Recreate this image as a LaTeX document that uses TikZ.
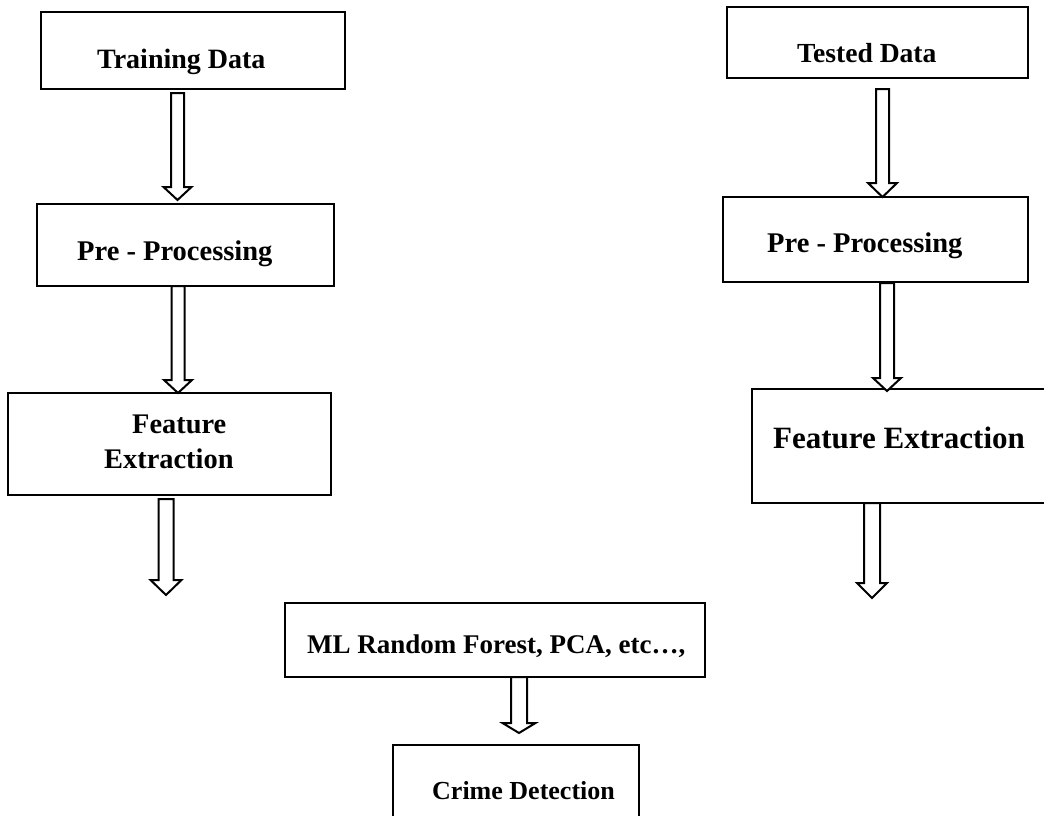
\documentclass[tikz,border=0pt]{standalone}
\usepackage{fontspec}
\setmainfont{Liberation Serif}
\begin{document}
\begin{tikzpicture}[x=1pt,y=-1pt,
  boxline/.style={draw=black,line width=2.6pt,fill=none},
  arrline/.style={draw=black,line width=2pt,fill=white,line join=miter},
  lbl/.style={anchor=base west,inner sep=0pt,font=\bfseries}]
\useasboundingbox (0,0) rectangle (1044,816);
\clip (0,0) rectangle (1044,816);
\newcommand{\hollowarr}[7]{% name, cx, top, bottom, halfshaft, halfhead, headlen
  \coordinate (#1-s) at (#2,#3);
  \coordinate (#1-e) at (#2,#4);
  \draw[arrline] (#2-#5,#3) -- (#2-#5,#4-#7) -- (#2-#6,#4-#7) -- (#1-e)
     -- (#2+#6,#4-#7) -- (#2+#5,#4-#7) -- (#2+#5,#3) -- cycle;}
% boxes
\draw[boxline] (41,12) rectangle (345,89) coordinate (trainbox);
\draw[boxline] (37,204) rectangle (334,286) coordinate (prelbox);
\draw[boxline] (8,393) rectangle (331,495) coordinate (featlbox);
\draw[boxline] (727,7) rectangle (1028,78) coordinate (testbox);
\draw[boxline] (723,197) rectangle (1028,282) coordinate (prerbox);
\draw[boxline] (752,389) rectangle (1060,503) coordinate (featrbox);
\draw[boxline] (285,603) rectangle (705,677) coordinate (mlbox);
\draw[boxline] (393,745) rectangle (639,840) coordinate (crimebox);
% labels
\node[lbl,font=\bfseries\fontsize{28}{34}\selectfont] (train) at (97,68) {Training Data};
\node[lbl,font=\bfseries\fontsize{28.5}{34}\selectfont] (prel) at (77,260) {Pre - Processing};
\node[lbl,font=\bfseries\fontsize{28.4}{34}\selectfont] (featl1) at (132,433) {Feature};
\node[lbl,font=\bfseries\fontsize{28.4}{34}\selectfont] (featl2) at (104,468) {Extraction};
\node[lbl,font=\bfseries\fontsize{27.6}{34}\selectfont] (test) at (797,63) {Tested Data};
\node[lbl,font=\bfseries\fontsize{28.5}{34}\selectfont] (prer) at (767,252) {Pre - Processing};
\node[lbl,font=\bfseries\fontsize{31}{36}\selectfont] (featr) at (773,448) {Feature Extraction};
\node[lbl,font=\bfseries\fontsize{27}{32}\selectfont] (ml) at (307,653) {ML Random Forest, PCA, etc…,};
\node[lbl,font=\bfseries\fontsize{26}{32}\selectfont] (crime) at (432,799) {Crime Detection};
% hollow arrows
\hollowarr{a1}{177.5}{93}{200}{6.5}{14}{13}
\hollowarr{a2}{178}{286}{393}{6.5}{14}{13}
\hollowarr{a3}{166}{499}{595}{7.5}{15.5}{15}
\hollowarr{b1}{882.5}{89}{197}{6.5}{14.5}{14}
\hollowarr{b2}{887}{283}{391}{7}{14}{13}
\hollowarr{b3}{872}{503}{598}{8}{15}{15}
\hollowarr{c1}{519}{677}{733}{8}{16.5}{10}
\end{tikzpicture}
\end{document}
